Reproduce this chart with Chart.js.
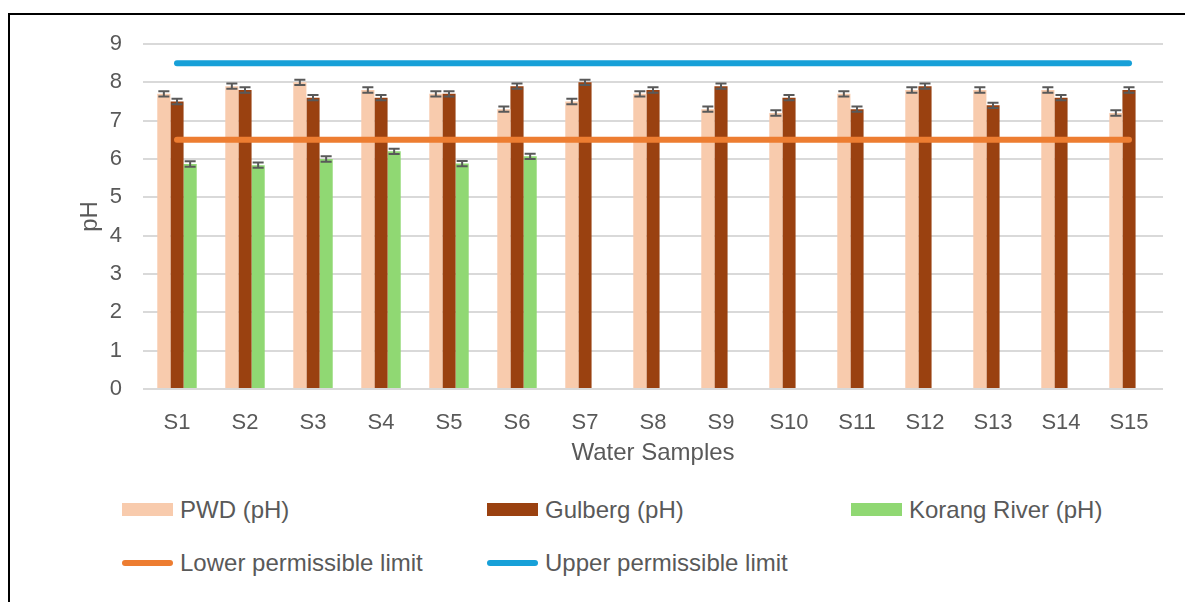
<!DOCTYPE html>
<html lang="en">
<head>
  <meta charset="UTF-8">
  <title>pH of water samples</title>
  <script src="https://cdn.jsdelivr.net/npm/chart.js"></script>
  <style>
    body {
      margin: 0;
      width: 1185px;
      height: 602px;
      overflow: hidden;
      background: #fff;
      font-family: "Liberation Sans", Arial, sans-serif;
      position: relative;
    }
    .frame {
      position: absolute;
      left: 8px;
      top: 13px;
      width: 1200px;
      height: 620px;
      border-top: 2px solid #000;
      border-left: 2px solid #000;
    }
    .wrap {
      position: absolute;
      left: 0;
      top: 0;
      width: 1185px;
      height: 470px;
    }
    #legend {
      position: absolute;
      left: 122px;
      top: 483px;
      display: grid;
      grid-template-columns: 365px 364px auto;
      grid-auto-rows: 53px;
      color: #595959;
      font-size: 24px;
    }
    .item {
      display: flex;
      align-items: center;
    }
    .sw {
      display: inline-block;
      width: 51px;
      height: 13px;
      margin-right: 7px;
    }
    .ln {
      display: inline-block;
      width: 51px;
      height: 6px;
      border-radius: 3px;
      margin-right: 7px;
    }
  </style>
</head>
<body>
  <div class="frame"></div>
  <div class="wrap"><canvas id="grafico"></canvas></div>
  <div id="legend"></div>

  <script>
const samples = ['S1', 'S2', 'S3', 'S4', 'S5', 'S6', 'S7', 'S8', 'S9', 'S10', 'S11', 'S12', 'S13', 'S14', 'S15'];
const pwd = [7.7, 7.9, 8.0, 7.8, 7.7, 7.3, 7.5, 7.7, 7.3, 7.2, 7.7, 7.8, 7.8, 7.8, 7.2];
const gulberg = [7.5, 7.8, 7.6, 7.6, 7.7, 7.9, 8.0, 7.8, 7.9, 7.6, 7.3, 7.9, 7.4, 7.6, 7.8];
const korang = [5.87, 5.84, 6.0, 6.2, 5.88, 6.07, null, null, null, null, null, null, null, null, null];
const pwdErr = [0.07, 0.07, 0.07, 0.07, 0.07, 0.07, 0.07, 0.07, 0.07, 0.07, 0.07, 0.07, 0.07, 0.07, 0.07];
const gulbergErr = [0.07, 0.07, 0.07, 0.07, 0.07, 0.07, 0.07, 0.07, 0.07, 0.07, 0.07, 0.07, 0.07, 0.07, 0.07];
const korangErr = [0.07, 0.07, 0.07, 0.07, 0.07, 0.07, null, null, null, null, null, null, null, null, null];
const lowerLimit = [6.5, 6.5, 6.5, 6.5, 6.5, 6.5, 6.5, 6.5, 6.5, 6.5, 6.5, 6.5, 6.5, 6.5, 6.5];
const upperLimit = [8.5, 8.5, 8.5, 8.5, 8.5, 8.5, 8.5, 8.5, 8.5, 8.5, 8.5, 8.5, 8.5, 8.5, 8.5];
const yTicks = [0, 1, 2, 3, 4, 5, 6, 7, 8, 9];

const textColor = '#595959';
const fontFamily = '"Liberation Sans", Arial, sans-serif';

// error bars drawn on top of each bar, using the chart's own scales
const errorBars = {
  id: 'errorBars',
  afterDatasetsDraw(chart) {
    const ctx = chart.ctx;
    const y = chart.scales.y;
    chart.data.datasets.forEach((ds, i) => {
      if (!ds.errors) return;
      const meta = chart.getDatasetMeta(i);
      meta.data.forEach((bar, j) => {
        const v = ds.data[j];
        const e = ds.errors[j];
        if (v == null || e == null) return;
        const top = y.getPixelForValue(v + e);
        const bot = y.getPixelForValue(v - e);
        const half = bar.width * 0.42;
        ctx.save();
        ctx.strokeStyle = '#595959';
        ctx.lineWidth = 2;
        ctx.beginPath();
        ctx.moveTo(bar.x, top);
        ctx.lineTo(bar.x, bot);
        ctx.moveTo(bar.x - half, top);
        ctx.lineTo(bar.x + half, top);
        ctx.moveTo(bar.x - half, bot);
        ctx.lineTo(bar.x + half, bot);
        ctx.stroke();
        ctx.restore();
      });
    });
  }
};

const chart = new Chart(document.getElementById('grafico').getContext('2d'), {
  type: 'bar',
  data: {
    labels: samples,
    datasets: [
      { label: 'PWD (pH)', data: pwd, errors: pwdErr, backgroundColor: '#F8CBAD', order: 2 },
      { label: 'Gulberg (pH)', data: gulberg, errors: gulbergErr, backgroundColor: '#9A4110', order: 2 },
      { label: 'Korang River (pH)', data: korang, errors: korangErr, backgroundColor: '#90D873', order: 2 },
      {
        type: 'line', label: 'Lower permissible limit', data: lowerLimit,
        borderColor: '#ED7D31', borderWidth: 6, borderCapStyle: 'round',
        pointRadius: 0, fill: false, order: 1
      },
      {
        type: 'line', label: 'Upper permissible limit', data: upperLimit,
        borderColor: '#17A0D8', borderWidth: 6, borderCapStyle: 'round',
        pointRadius: 0, fill: false, order: 1
      }
    ]
  },
  options: {
    responsive: true,
    maintainAspectRatio: false,
    animation: false,
    datasets: {
      bar: { barPercentage: 1, categoryPercentage: 0.58 }
    },
    layout: { padding: { left: 74, top: 44, right: 22, bottom: 0 } },
    plugins: {
      legend: { display: false },
      tooltip: { enabled: false }
    },
    scales: {
      x: {
        grid: { display: false },
        border: { display: false },
        ticks: { color: textColor, font: { family: fontFamily, size: 22 }, padding: 13, maxRotation: 0 },
        title: {
          display: true, text: 'Water Samples', color: textColor,
          font: { family: fontFamily, size: 24 }, padding: { top: 0, bottom: 2 }
        },
        afterFit: s => { s.height = 81; }
      },
      y: {
        min: 0,
        max: 9,
        afterBuildTicks: s => { s.ticks = yTicks.map(v => ({ value: v })); },
        grid: { color: '#D9D9D9', lineWidth: 2, drawTicks: false },
        border: { display: false },
        ticks: { color: textColor, font: { family: fontFamily, size: 22 }, padding: 21 },
        title: {
          display: true, text: 'pH', color: textColor,
          font: { family: fontFamily, size: 24 }, padding: { top: 2, bottom: 0 }
        },
        afterFit: s => { s.width = 69; }
      }
    }
  },
  plugins: [errorBars]
});

// legend laid out like the original, three columns
const legend = document.getElementById('legend');
chart.data.datasets.forEach(ds => {
  const item = document.createElement('div');
  item.className = 'item';
  const mark = document.createElement('span');
  if (ds.type === 'line') {
    mark.className = 'ln';
    mark.style.background = ds.borderColor;
  } else {
    mark.className = 'sw';
    mark.style.background = ds.backgroundColor;
  }
  item.appendChild(mark);
  item.appendChild(document.createTextNode(ds.label));
  legend.appendChild(item);
});
</script>
</body>
</html>
